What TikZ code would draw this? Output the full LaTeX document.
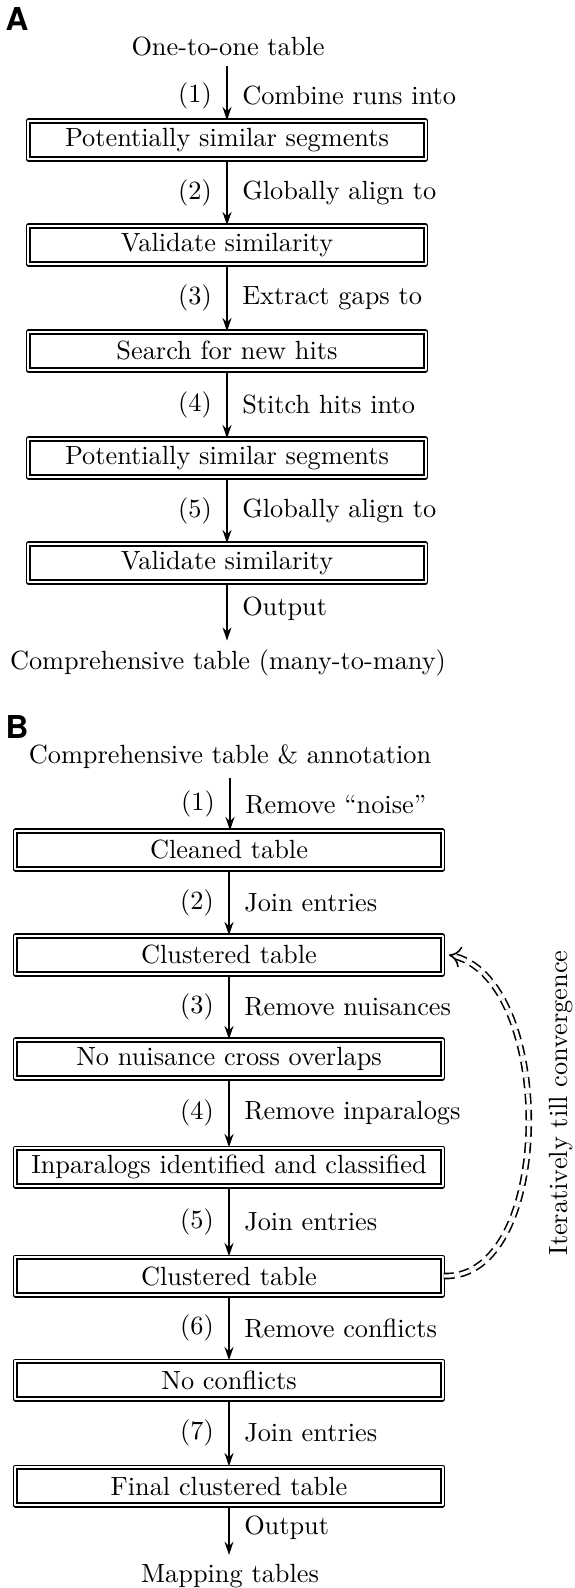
\documentclass[tikz,border=0pt]{standalone}
\usepackage{fontspec}
\usepackage{amsmath}
\newfontfamily\panelfont{TeX Gyre Heros}
\usetikzlibrary{arrows.meta}
\tikzset{>={Stealth[length=5pt,width=3.4pt]}}
\tikzset{
  stage/.style={draw, double, double distance=0.65pt, line width=0.65pt,
    minimum height=14.4pt, inner sep=0pt},
  stageA/.style={stage, minimum width=151pt},
  stageB/.style={stage, minimum width=162.5pt},
  flow/.style={->, line width=0.6pt},
  num/.style={left, inner sep=5.5pt},
  act/.style={right, inner sep=5.5pt},
  panel/.style={font=\panelfont\bfseries\large, inner sep=0pt},
}

\begin{document}
\begin{tikzpicture}[x=0.38pt, y=-0.38pt, line join = round]
    \useasboundingbox (0,0) rectangle (574,1588);
    % panel A
    \node[panel] (labA) at (17,19) {A};
    \node[] (inA) at (228,47) {One-to-one table};
    \node[stageA] (a1) at (227,140) {Potentially similar segments};
    \node[stageA] (a2) at (227,245) {Validate similarity};
    \node[stageA] (a3) at (227,351) {Search for new hits};
    \node[stageA] (a4) at (227,458) {Potentially similar segments};
    \node[stageA] (a5) at (227,563) {Validate similarity};
    \node[] (outA) at (228,663) {Comprehensive table (many-to-many)};
    \draw[flow] (inA.south -| a1.north) -- node[num, pos=0.55]{(1)} node[act, pos=0.55]{Combine runs into} (a1.north);
    \draw[flow] (a1) -- node[num]{(2)} node[act]{Globally align to} (a2);
    \draw[flow] (a2) -- node[num]{(3)} node[act]{Extract gaps to} (a3);
    \draw[flow] (a3) -- node[num]{(4)} node[act]{Stitch hits into} (a4);
    \draw[flow] (a4) -- node[num]{(5)} node[act]{Globally align to} (a5);
    \draw[flow] (a5.south) -- node[act, pos=0.45]{Output} (a5.south |- outA.north);

    % panel B
    \node[panel] (labB) at (17,727) {B};
    \node[] (inB) at (230,757) {Comprehensive table \& annotation};
    \node[stageB] (b1) at (229,850) {Cleaned table};
    \node[stageB] (b2) at (229,955) {Clustered table};
    \node[stageB] (b3) at (229,1059) {No nuisance cross overlaps};
    \node[stageB] (b4) at (229,1167) {Inparalogs identified and classified};
    \node[stageB] (b5) at (229,1276) {Clustered table};
    \node[stageB] (b6) at (229,1380) {No conflicts};
    \node[stageB] (b7) at (229,1486) {Final clustered table};
    \node[] (outB) at (230,1576) {Mapping tables};
    \draw[flow] (inB.south) -- node[num, pos=0.5]{(1)} node[act, pos=0.5]{Remove ``noise''} (inB.south |- b1.north);
    \draw[flow] (b1) -- node[num]{(2)} node[act]{Join entries} (b2);
    \draw[flow] (b2) -- node[num]{(3)} node[act]{Remove nuisances} (b3);
    \draw[flow] (b3) -- node[num]{(4)} node[act]{Remove inparalogs} (b4);
    \draw[flow] (b4) -- node[num]{(5)} node[act]{Join entries} (b5);
    \draw[flow] (b5) -- node[num]{(6)} node[act]{Remove conflicts} (b6);
    \draw[flow] (b6) -- node[num]{(7)} node[act]{Join entries} (b7);
    \draw[flow] (b7.south) -- node[act, pos=0.45]{Output} (b7.south |- outB.north);

    \node[rotate=90] (iter) at (561,1103) {Iteratively till convergence};
    \draw[double, dash pattern=on 4pt off 2.2pt, line width=0.6pt, double distance=1.3pt, -{To[length=4.5pt,width=8pt]}]
        (b5.east) .. controls (556,1280) and (556,975) .. ([xshift=2pt]b2.east);

\end{tikzpicture}
\end{document}
